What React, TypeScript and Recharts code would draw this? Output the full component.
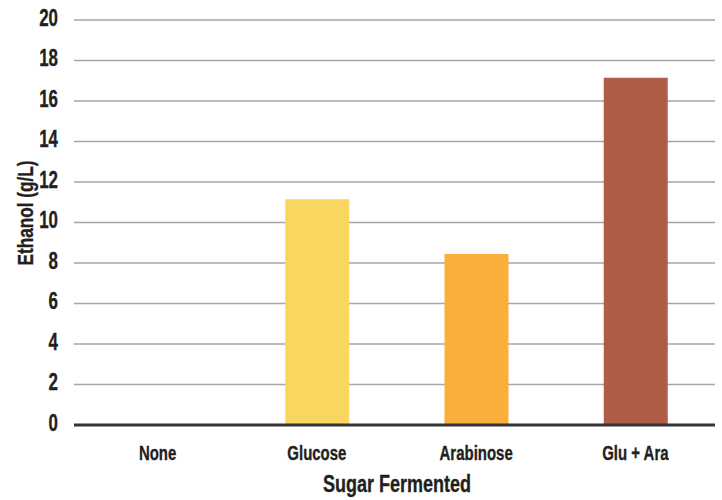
import { Bar, BarChart, CartesianGrid, Cell, ReferenceLine, XAxis, YAxis } from "recharts";

const sugars = ["None", "Glucose", "Arabinose", "Glu + Ara"];
const ethanol = [0, 11.15, 8.45, 17.15];
const barColors = ["#f9d65f", "#f9d65f", "#f9af3b", "#b05d48"];
const yTicks = [0, 2, 4, 6, 8, 10, 12, 14, 16, 18, 20];

// no condensed bold face installed, so squeeze Liberation Sans Bold horizontally
const font = "'Liberation Sans', Arial, sans-serif";
const ink = "#231f20";

function NarrowText({ x, y, text, size, squeeze, anchor = "middle", angle = 0 }: any) {
  return (
    <text
      transform={`translate(${x},${y}) rotate(${angle}) scale(${squeeze},1)`}
      textAnchor={anchor}
      fill={ink}
      stroke={ink}
      strokeWidth={0.35}
      fontFamily={font}
      fontWeight={700}
      fontSize={size}
    >
      {text}
    </text>
  );
}

function SugarTick({ x, y, payload }: any) {
  return <NarrowText x={x} y={y + 35} text={payload.value} size={20.5} squeeze={0.73} />;
}

function EthanolTick({ x, y, payload }: any) {
  return <NarrowText x={x - 16} y={y + 5.5} text={payload.value} size={23.5} squeeze={0.72} anchor="end" />;
}

function XTitle() {
  return <NarrowText x={397} y={492} text="Sugar Fermented" size={24} squeeze={0.75} />;
}

function YTitle() {
  return <NarrowText x={33} y={213} text="Ethanol (g/L)" size={22} squeeze={0.78} angle={-90} />;
}

export default function App() {
  const data = sugars.map((sugar, i) => ({ sugar, ethanol: ethanol[i] }));

  return (
    <div style={{ position: "absolute", left: 0, top: 0, width: 722, height: 500, background: "#ffffff" }}>
      <BarChart width={722} height={500} data={data} margin={{ top: 20, right: 7, bottom: 0, left: 0 }}>
        <CartesianGrid stroke="#a6a6a6" strokeWidth={1.5} vertical={false} />
        <XAxis
          dataKey="sugar"
          height={75}
          padding={{ left: 4, right: 0 }}
          axisLine={false}
          tickLine={false}
          tickSize={0}
          tickMargin={0}
          tick={<SugarTick />}
          label={<XTitle />}
        />
        <YAxis
          width={74}
          domain={[0, 20]}
          ticks={yTicks}
          axisLine={false}
          tickLine={false}
          tickSize={0}
          tickMargin={0}
          tick={<EthanolTick />}
          label={<YTitle />}
        />
        <ReferenceLine y={0} stroke="#333333" strokeWidth={3} />
        <Bar dataKey="ethanol" barSize={64} isAnimationActive={false}>
          {data.map((d, i) => (
            <Cell key={d.sugar} fill={barColors[i]} />
          ))}
        </Bar>
      </BarChart>
    </div>
  );
}
